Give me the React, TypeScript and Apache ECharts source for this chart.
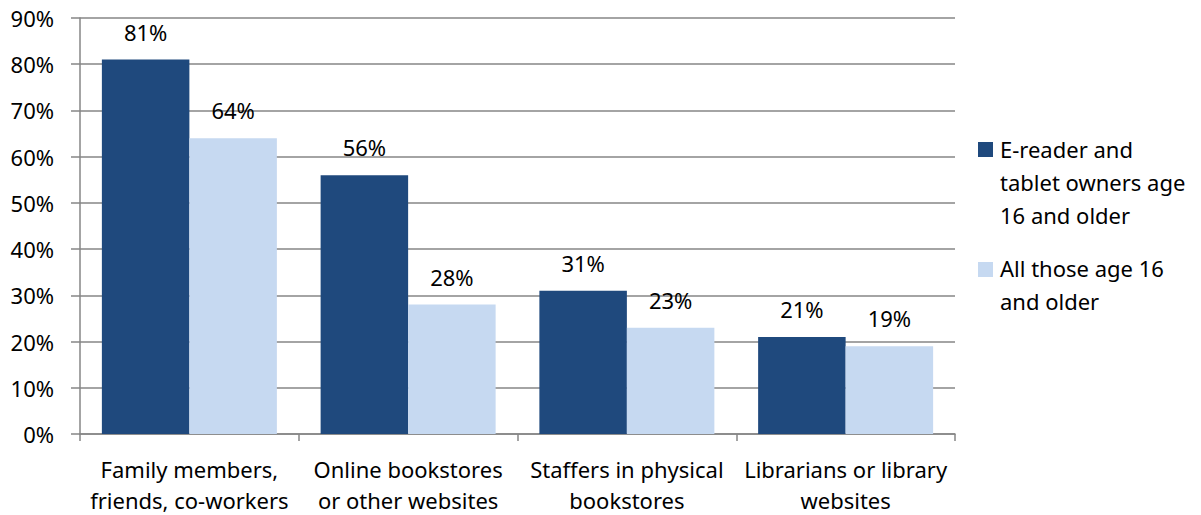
import React, { useEffect, useRef } from "react";
import * as echarts from "echarts";

const categories = [
  "Family members,\nfriends, co-workers",
  "Online bookstores\nor other websites",
  "Staffers in physical\nbookstores",
  "Librarians or library\nwebsites",
];
const seriesNames = [
  "E-reader and\ntablet owners age\n16 and older",
  "All those age 16\nand older",
];
const ereaderValues = [81, 56, 31, 21];
const allValues = [64, 28, 23, 19];
const yTicks = [0, 10, 20, 30, 40, 50, 60, 70, 80, 90];

const colors = ["#1F497D", "#C6D9F1"];
const FONT = "Noto Sans";
const FS = 22;

export default function App() {
  const ref = useRef<HTMLDivElement>(null);
  useEffect(() => {
    if (!ref.current) return;
    const chart = echarts.init(ref.current, undefined, { renderer: "svg" });
    const labelStyle = {
      show: true,
      position: "top" as const,
      distance: 17,
      formatter: "{c}%",
      fontSize: FS,
      fontFamily: FONT,
      color: "#000",
    };
    chart.setOption({
      animation: false,
      textStyle: { fontFamily: FONT },
      grid: { left: 80, right: 246, top: 18, bottom: 79, containLabel: false },
      xAxis: {
        type: "category",
        data: categories,
        axisLine: { lineStyle: { color: "#868686", width: 1.5 } },
        axisTick: { show: true, length: 7, lineStyle: { color: "#868686", width: 1.5 } },
        axisLabel: {
          fontSize: FS,
          fontFamily: FONT,
          color: "#000",
          margin: 19,
          lineHeight: 31,
          interval: 0,
        },
      },
      yAxis: {
        type: "value",
        min: 0,
        max: yTicks[yTicks.length - 1],
        interval: 10,
        axisLine: { show: true, lineStyle: { color: "#868686", width: 1.5 } },
        axisTick: { show: true, length: 9, lineStyle: { color: "#868686", width: 1.5 } },
        splitLine: { lineStyle: { color: "#868686", width: 1.5 } },
        axisLabel: {
          formatter: "{value}%",
          fontSize: FS,
          fontFamily: FONT,
          color: "#000",
          margin: 26,
        },
      },
      legend: { show: false },
      series: [
        {
          name: seriesNames[0],
          type: "bar",
          data: ereaderValues,
          itemStyle: { color: colors[0] },
          barGap: "0%",
          barCategoryGap: "20%",
          label: labelStyle,
        },
        {
          name: seriesNames[1],
          type: "bar",
          data: allValues,
          itemStyle: { color: colors[1] },
          barGap: "0%",
          barCategoryGap: "20%",
          label: labelStyle,
        },
      ],
      graphic: [
        { type: "rect", shape: { x: 978, y: 142, width: 15, height: 15 }, style: { fill: colors[0] } },
        {
          type: "text",
          x: 1000,
          y: 132,
          style: { text: seriesNames[0], fontSize: FS, fontFamily: FONT, fill: "#000", lineHeight: 33 },
        },
        { type: "rect", shape: { x: 978, y: 262, width: 15, height: 15 }, style: { fill: colors[1] } },
        {
          type: "text",
          x: 1000,
          y: 251,
          style: { text: seriesNames[1], fontSize: FS, fontFamily: FONT, fill: "#000", lineHeight: 33 },
        },
      ],
    });
    return () => chart.dispose();
  }, []);
  return (
    <div
      ref={ref}
      style={{ position: "fixed", left: 0, top: 0, width: 1201, height: 515, background: "#fff" }}
    />
  );
}
